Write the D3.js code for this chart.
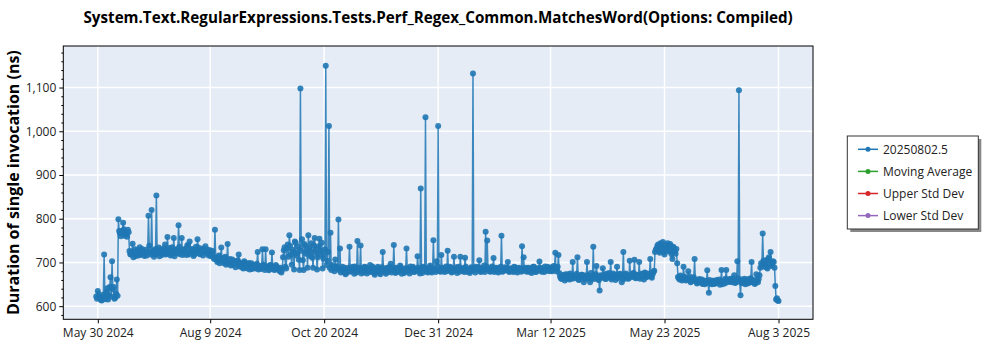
<!DOCTYPE html>
<html>
<head>
<meta charset="utf-8">
<script src="https://cdn.jsdelivr.net/npm/d3@7"></script>
<style>
  body { margin: 0; background: #fff; }
  svg { display: block; font-family: "Segoe UI", "Open Sans", "Noto Sans", sans-serif; }
</style>
</head>
<body>
<svg id="chart" width="1000" height="350"></svg>
<script>
// ---- data ----
const title = "System.Text.RegularExpressions.Tests.Perf_Regex_Common.MatchesWord(Options: Compiled)";
const yLabel = "Duration of single invocation (ns)";
const startDate = "2024-05-29"; // runs: one at 00:00 (values) and one at 12:00 (valuesMidday) per day
const values = [
  622, 635, 618, 614, 620, 718, 616, 641, 625, 666,
  703, 644, 619, 661, 799, 766, 772, 791, 761, 768,
  775, 726, 718, 743, 721, 715, 729, 723, 717, 731,
  720, 724, 716, 807, 722, 820, 727, 719, 853, 725,
  714, 730, 721, 733, 718, 758, 724, 716, 735, 756,
  722, 728, 785, 719, 756, 726, 731, 717, 740, 748,
  723, 729, 718, 736, 753, 725, 720, 732, 727, 737,
  722, 716, 728, 721, 712, 775, 706, 712, 698, 734,
  704, 710, 695, 742, 701, 693, 707, 698, 689, 702,
  718, 692, 697, 686, 700, 690, 695, 684, 698, 688,
  693, 686, 724, 690, 685, 730, 692, 730, 687, 682,
  694, 723, 689, 684, 691, 686, 680, 677, 712, 735,
  686, 741, 762, 718, 729, 684, 745, 721, 706, 1098,
  753, 683, 739, 726, 762, 715, 744, 688, 756, 730,
  712, 754, 727, 686, 719, 1150, 704, 1012, 768, 694,
  686, 707, 690, 798, 732, 684, 679, 688, 676, 683,
  736, 681, 690, 674, 686, 749, 680, 739, 684, 677,
  689, 675, 682, 694, 678, 686, 672, 683, 690, 677,
  685, 724, 680, 674, 688, 679, 697, 683, 740, 676,
  686, 681, 693, 674, 684, 679, 732, 687, 675, 682,
  690, 678, 685, 714, 680, 869, 676, 688, 1032, 679,
  684, 693, 677, 751, 682, 703, 1012, 680, 717, 686,
  678, 691, 727, 683, 688, 679, 713, 685, 676, 690,
  713, 681, 687, 711, 679, 684, 676, 689, 1132, 682,
  690, 685, 705, 678, 686, 693, 770, 750, 684, 679,
  691, 710, 682, 687, 677, 685, 761, 680, 689, 683,
  701, 678, 686, 681, 690, 684, 677, 688, 682, 737,
  712, 685, 679, 688, 683, 676, 690, 684, 679, 687,
  702, 681, 686, 678, 684, 690, 682, 687, 680, 692,
  722, 685, 717, 668, 662, 671, 659, 666, 673, 661,
  669, 701, 664, 670, 712, 660, 667, 672, 655, 665,
  701, 668, 655, 663, 736, 670, 692, 661, 636, 667,
  687, 673, 662, 669, 676, 701, 665, 671, 660, 690,
  668, 674, 655, 724, 666, 672, 663, 704, 669, 675,
  706, 664, 671, 701, 667, 673, 661, 676, 668, 672,
  708, 665, 678, 724, 732, 741, 722, 736, 747, 718,
  729, 744, 725, 738, 708, 733, 720, 698, 664, 670,
  659, 690, 665, 661, 680, 668, 657, 663, 708, 660,
  655, 662, 657, 651, 659, 654, 682, 631, 656, 650,
  658, 653, 660, 655, 649, 683, 657, 652, 683, 661,
  656, 663, 658, 671, 654, 703, 1094, 625, 653, 659,
  650, 656, 662, 654, 701, 657, 651, 673, 655, 671,
  698, 766, 690, 705, 686, 712, 724, 695, 701, 646, 618, 612
];
const valuesMidday = [
  617, 628, 621, 613, 626, 619, 632, 615, 644, 622,
  638, 617, 629, 624, 772, 760, 768, 776, 764, 759,
  769, 719, 725, 712, 730, 722, 716, 735, 721, 727,
  715, 729, 722, 738, 718, 724, 713, 731, 720, 734,
  726, 717, 723, 741, 720, 728, 733, 719, 725, 714,
  730, 721, 736, 724, 717, 729, 722, 739, 718, 726,
  731, 715, 727, 722, 734, 719, 728, 716, 730, 724,
  729, 720, 714, 726, 708, 711, 701, 716, 705, 709,
  699, 713, 703, 697, 708, 700, 694, 703, 696, 705,
  691, 699, 688, 703, 694, 686, 699, 691, 685, 694,
  688, 697, 684, 692, 688, 695, 683, 690, 686, 693,
  685, 691, 683, 694, 687, 682, 688, 684, 728, 690,
  732, 713, 738, 695, 724, 748, 716, 736, 683, 727,
  705, 742, 720, 688, 733, 726, 711, 739, 722, 684,
  737, 718, 745, 709, 730, 694, 724, 688, 683, 689,
  680, 691, 685, 683, 677, 690, 684, 673, 681, 688,
  679, 686, 683, 691, 677, 684, 688, 675, 682, 690,
  681, 687, 679, 684, 691, 676, 686, 680, 685, 673,
  689, 682, 686, 678, 683, 690, 677, 685, 680, 688,
  678, 684, 689, 681, 676, 687, 683, 680, 691, 685,
  679, 686, 682, 688, 675, 684, 690, 681, 685, 677,
  689, 680, 686, 683, 678, 692, 684, 679, 688, 682,
  686, 680, 684, 690, 677, 685, 681, 689, 683, 679,
  687, 682, 678, 690, 684, 680, 686, 681, 688, 677,
  684, 689, 680, 686, 682, 678, 691, 685, 680, 687,
  683, 678, 688, 681, 686, 690, 679, 685, 682, 688,
  680, 686, 683, 678, 689, 682, 687, 684, 679, 686,
  681, 688, 684, 679, 686, 682, 690, 678, 685, 683,
  688, 679, 684, 691, 681, 686, 680, 689, 684, 686,
  680, 690, 676, 664, 671, 666, 673, 662, 669, 675,
  663, 670, 666, 674, 661, 668, 672, 665, 670, 662,
  671, 664, 676, 667, 662, 673, 668, 660, 671, 665,
  669, 663, 674, 666, 670, 661, 675, 667, 672, 664,
  673, 666, 670, 662, 675, 668, 664, 671, 667, 676,
  665, 672, 668, 663, 674, 669, 677, 666, 671, 675,
  668, 673, 681, 729, 738, 726, 744, 731, 723, 740,
  735, 727, 742, 719, 736, 726, 731, 667, 661, 666,
  663, 668, 659, 664, 661, 655, 660, 666, 657, 652,
  659, 654, 661, 656, 650, 657, 653, 660, 652, 658,
  651, 657, 654, 661, 656, 650, 658, 663, 655, 659,
  662, 655, 660, 653, 658, 664, 656, 661, 654, 663,
  657, 652, 659, 664, 655, 660, 653, 658, 662, 688,
  693, 704, 697, 689, 708, 699, 692, 703, 688, 615, 613
];
const xTickDates = ["2024-05-30", "2024-08-09", "2024-10-20", "2024-12-31", "2025-03-12", "2025-05-23", "2025-08-03"];
const xDomain = ["2024-05-08T05:00:00Z", "2025-08-24T19:00:00Z"];
const yDomain = [570, 1195];
const yTicks = [600, 700, 800, 900, 1000, 1100];
const yMinorTicks = [580, 620, 640, 660, 680, 720, 740, 760, 780, 820, 840, 860, 880, 920, 940, 960, 980, 1020, 1040, 1060, 1080, 1120, 1140, 1160, 1180];
const legendNames = ["20250802.5", "Moving Average", "Upper Std Dev", "Lower Std Dev"];
const legendColors = ["#1f77b4", "#2ca02c", "#d62728", "#9467bd"];

// ---- build ----
const start = new Date(startDate + "T00:00:00Z");
const data = [];
values.forEach((v, i) => {
  data.push({ date: d3.utcDay.offset(start, i), value: v });
  if (i < valuesMidday.length) data.push({ date: d3.utcHour.offset(d3.utcDay.offset(start, i), 12), value: valuesMidday[i] });
});
data.sort((a, b) => a.date - b.date);

const svg = d3.select("#chart");
const L = 63.3, R = 813, T = 46, B = 319.3;

const x = d3.scaleUtc().domain(xDomain.map(d => new Date(d))).range([L, R]);
const y = d3.scaleLinear().domain(yDomain).range([B, T]);

svg.append("rect").attr("x", L).attr("y", T).attr("width", R - L).attr("height", B - T).attr("fill", "#e5ecf6");

const tickDates = xTickDates.map(d => new Date(d + "T00:00:00Z"));

svg.append("g").selectAll("line").data(tickDates).join("line")
  .attr("x1", d => x(d)).attr("x2", d => x(d)).attr("y1", T).attr("y2", B)
  .attr("stroke", "#fff").attr("stroke-width", 1.5);
svg.append("g").selectAll("line").data(yTicks).join("line")
  .attr("x1", L).attr("x2", R).attr("y1", d => y(d)).attr("y2", d => y(d))
  .attr("stroke", "#fff").attr("stroke-width", 1.5);

svg.append("clipPath").attr("id", "clip").append("rect")
  .attr("x", L).attr("y", T).attr("width", R - L).attr("height", B - T);

const plot = svg.append("g").attr("clip-path", "url(#clip)");
const line = d3.line().x(d => x(d.date)).y(d => y(d.value));
plot.append("path").datum(data).attr("d", line)
  .attr("fill", "none").attr("stroke", "#1f77b4").attr("stroke-width", 1.5).attr("stroke-opacity", 0.85);
plot.append("g").selectAll("circle").data(data).join("circle")
  .attr("cx", d => x(d.date)).attr("cy", d => y(d.value)).attr("r", 3)
  .attr("fill", "#1f77b4").attr("fill-opacity", 0.9);

svg.append("rect").attr("x", L).attr("y", T).attr("width", R - L).attr("height", B - T)
  .attr("fill", "none").attr("stroke", "#000").attr("stroke-width", 1);

const xAxis = svg.append("g").attr("transform", `translate(0,${B})`)
  .call(d3.axisBottom(x).tickValues(tickDates).tickFormat(d3.utcFormat("%b %-d %Y")).tickSize(4).tickSizeOuter(0));
xAxis.select(".domain").remove();
xAxis.selectAll("text").attr("font-size", 12).attr("fill", "#222").attr("dy", "0.9em")
  .attr("font-family", "'Segoe UI', 'Open Sans', sans-serif");

const yAxis = svg.append("g").attr("transform", `translate(${L},0)`)
  .call(d3.axisLeft(y).tickValues(yTicks).tickFormat(d3.format(",")).tickSize(4).tickSizeOuter(0));
yAxis.select(".domain").remove();
yAxis.selectAll("text").attr("font-size", 12).attr("fill", "#222")
  .attr("font-family", "'Segoe UI', 'Open Sans', sans-serif");
const yMinor = svg.append("g").attr("transform", `translate(${L},0)`)
  .call(d3.axisLeft(y).tickValues(yMinorTicks).tickFormat("").tickSize(2).tickSizeOuter(0));
yMinor.select(".domain").remove();

svg.append("text").attr("x", (L + R) / 2).attr("y", 23).attr("text-anchor", "middle")
  .attr("font-size", 15.2).attr("font-weight", "bold").attr("fill", "#000").text(title);

svg.append("text").attr("transform", `translate(19,${(T + B) / 2}) rotate(-90)`)
  .attr("text-anchor", "middle").attr("font-size", 16).attr("font-weight", "bold").attr("fill", "#000").text(yLabel);

const lg = svg.append("g");
lg.append("rect").attr("x", 850.3).attr("y", 139).attr("width", 131).attr("height", 93).attr("fill", "#888");
lg.append("rect").attr("x", 847.3).attr("y", 136).attr("width", 131).attr("height", 93)
  .attr("fill", "#fff").attr("stroke", "#333").attr("stroke-width", 1);
legendNames.forEach((n, i) => {
  const cy = 149.3 + i * 22.1;
  lg.append("line").attr("x1", 858).attr("x2", 878).attr("y1", cy).attr("y2", cy)
    .attr("stroke", legendColors[i]).attr("stroke-width", 1.5);
  lg.append("circle").attr("cx", 868).attr("cy", cy).attr("r", 2.5).attr("fill", legendColors[i]);
  lg.append("text").attr("x", 883).attr("y", cy).attr("dy", "0.35em").attr("font-size", 12).attr("fill", "#222").text(n);
});
</script>
</body>
</html>
